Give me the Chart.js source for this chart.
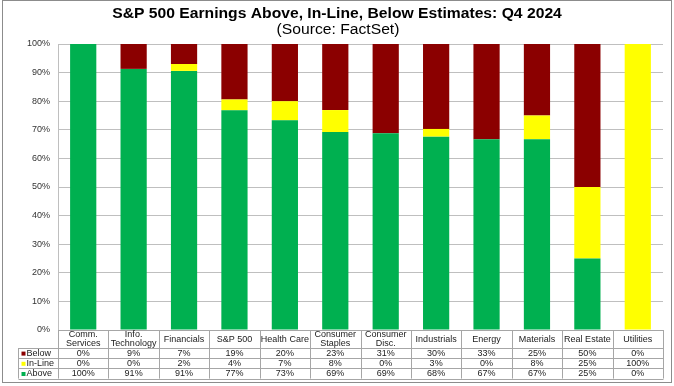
<!DOCTYPE html>
<html>
<head>
<meta charset="utf-8">
<script src="https://cdn.jsdelivr.net/npm/chart.js@4.4.1/dist/chart.umd.min.js"></script>
<style>
  html, body { margin: 0; padding: 0; background: #fff; }
  #wrap { width: 674px; height: 386px; position: relative; }
</style>
</head>
<body>
<div id="wrap"><canvas id="c" width="674" height="386"></canvas></div>
<script>
const categories = [["Comm.", "Services"], ["Info.", "Technology"], ["Financials"], ["S&P 500"], ["Health Care"], ["Consumer", "Staples"], ["Consumer", "Disc."], ["Industrials"], ["Energy"], ["Materials"], ["Real Estate"], ["Utilities"]];
const above  = [100, 91.3, 90.6, 76.8, 73.3, 69.2, 68.8, 67.6, 66.7, 66.7, 25, 0];
const inLine = [0, 0, 2.4, 3.8, 6.7, 7.7, 0, 2.7, 0, 8.3, 25, 100];
const below  = [0, 8.7, 7.0, 19.4, 20.0, 23.1, 31.2, 29.7, 33.3, 25, 50, 0];
const yTicks = [0, 10, 20, 30, 40, 50, 60, 70, 80, 90, 100];
const titleText = "S&P 500 Earnings Above, In-Line, Below Estimates: Q4 2024";
const subtitleText = "(Source: FactSet)";

const GREEN = "#00B050", YELLOW = "#FFFF00", RED = "#8B0000";
const FONT = "'Liberation Sans', Arial, sans-serif";

function stretchedText(ctx, text, cx, cy, sx) {
  ctx.save();
  ctx.translate(cx, cy);
  ctx.scale(sx, 1);
  ctx.fillText(text, 0, 0);
  ctx.restore();
}

const tablePlugin = {
  id: "tablePlugin",
  afterDraw(chart) {
    const ctx = chart.ctx;
    const x = chart.scales.x;
    const n = categories.length;
    const left = x.left, right = x.right;
    const cw = (right - left) / n;
    const top = chart.chartArea.bottom;
    const hdrBottom = 348;
    const rowH = 10.2;
    const tblLeft = 18.5;
    const rows = [
      { name: "Below", color: RED, data: below },
      { name: "In-Line", color: YELLOW, data: inLine },
      { name: "Above", color: GREEN, data: above }
    ];
    const tblBottom = hdrBottom + rowH * rows.length;
    ctx.save();
    // outer border
    ctx.strokeStyle = "#8c8c8c";
    ctx.lineWidth = 1;
    ctx.strokeRect(2.5, 0.5, 669, 382);
    // title
    ctx.fillStyle = "#000";
    ctx.textAlign = "center";
    ctx.textBaseline = "middle";
    ctx.font = "bold 14px " + FONT;
    stretchedText(ctx, titleText, 337, 14, 1.12);
    ctx.font = "14px " + FONT;
    stretchedText(ctx, subtitleText, 338, 30, 1.12);
    // table lines
    ctx.strokeStyle = "#a6a6a6";
    ctx.beginPath();
    ctx.moveTo(Math.round(left) + 0.5, top); ctx.lineTo(Math.round(left) + 0.5, tblBottom);
    for (let i = 1; i <= n; i++) {
      const xx = Math.round(left + i * cw) + 0.5;
      ctx.moveTo(xx, top); ctx.lineTo(xx, tblBottom);
    }
    ctx.moveTo(tblLeft, hdrBottom); ctx.lineTo(tblLeft, tblBottom);
    for (let r = 0; r <= rows.length; r++) {
      const yy = Math.round(hdrBottom + r * rowH) + 0.5;
      ctx.moveTo(tblLeft, yy); ctx.lineTo(Math.round(right) + 0.5, yy);
    }
    ctx.moveTo(left, top + 0.5); ctx.lineTo(Math.round(right) + 0.5, top + 0.5);
    ctx.stroke();
    // header labels
    ctx.fillStyle = "#222";
    ctx.font = "9px " + FONT;
    ctx.textAlign = "center";
    ctx.textBaseline = "middle";
    const hdrMid = (top + hdrBottom) / 2 + 0.5;
    for (let i = 0; i < n; i++) {
      const cx = x.getPixelForValue(i);
      const lines = categories[i];
      if (lines.length === 1) {
        ctx.fillText(lines[0], cx, hdrMid);
      } else {
        ctx.fillText(lines[0], cx, hdrMid - 4.5);
        ctx.fillText(lines[1], cx, hdrMid + 4.5);
      }
    }
    // rows
    rows.forEach((row, r) => {
      const cy = hdrBottom + r * rowH + rowH / 2 + 0.5;
      ctx.fillStyle = row.color;
      ctx.fillRect(tblLeft + 3, cy - 2, 4, 4);
      ctx.fillStyle = "#222";
      ctx.textAlign = "left";
      ctx.fillText(row.name, tblLeft + 8, cy);
      ctx.textAlign = "center";
      for (let i = 0; i < n; i++) {
        ctx.fillText(Math.round(row.data[i]) + "%", x.getPixelForValue(i), cy);
      }
    });
    ctx.restore();
  }
};

new Chart(document.getElementById("c"), {
  type: "bar",
  data: {
    labels: categories.map(c => c.join(" ")),
    datasets: [
      { label: "Above", data: above, backgroundColor: GREEN },
      { label: "In-Line", data: inLine, backgroundColor: YELLOW },
      { label: "Below", data: below, backgroundColor: RED }
    ]
  },
  options: {
    responsive: false,
    animation: false,
    events: [],
    layout: { padding: { left: 0, right: 11, top: 44, bottom: 0 } },
    datasets: { bar: { barPercentage: 0.52, categoryPercentage: 1.0 } },
    plugins: { legend: { display: false }, tooltip: { enabled: false }, title: { display: false } },
    scales: {
      x: {
        stacked: true,
        grid: { display: false, drawTicks: false },
        border: { display: false },
        ticks: { display: false },
        afterFit(s) { s.height = 56; }
      },
      y: {
        stacked: true,
        min: 0, max: 100,
        afterFit(s) { s.width = 58; },
        afterBuildTicks(s) { s.ticks = yTicks.map(v => ({ value: v })); },
        grid: { color: "#bfbfbf", drawTicks: false, lineWidth: 1 },
        border: { display: true, color: "#bfbfbf" },
        ticks: {
          padding: 8,
          color: "#333",
          font: { family: FONT, size: 9 },
          callback: v => v + "%"
        }
      }
    }
  },
  plugins: [tablePlugin]
});
</script>
</body>
</html>
